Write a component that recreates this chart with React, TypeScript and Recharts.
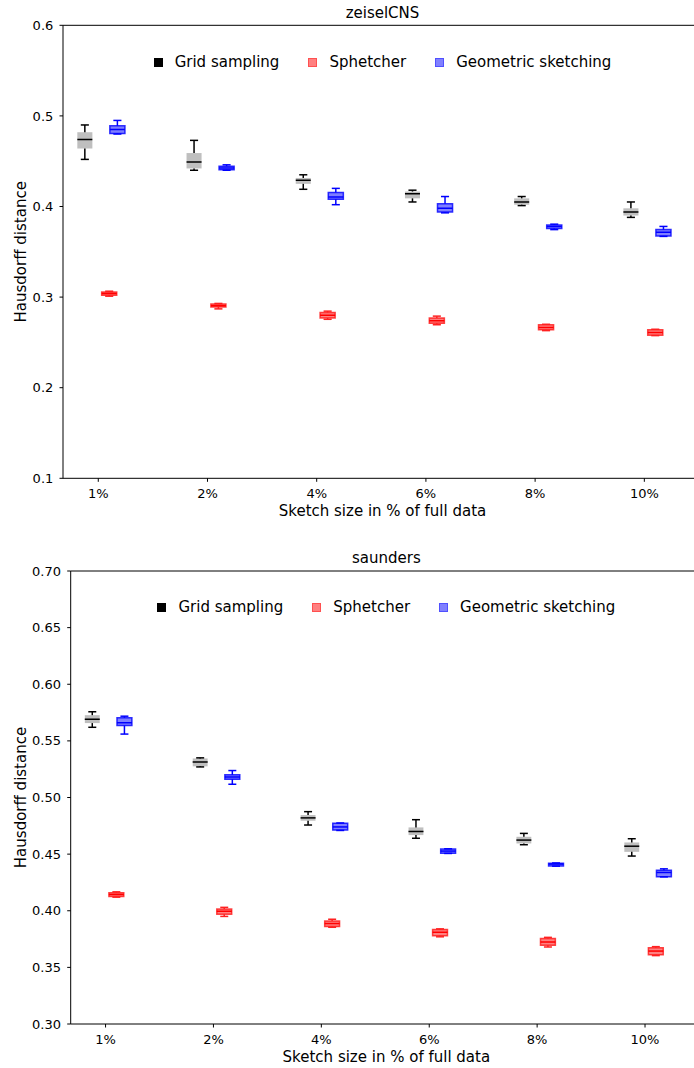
import React from 'react';
import { ComposedChart, Scatter, XAxis, YAxis, ReferenceArea, ReferenceLine, Legend, Label } from 'recharts';

const categories = ['1%', '2%', '4%', '6%', '8%', '10%'];
const methodNames = ['Grid sampling', 'Sphetcher', 'Geometric sketching'];

// each row: [lower whisker, Q1, median, Q3, upper whisker]
const zeiselGrid = [
  [0.452, 0.464, 0.474, 0.482, 0.490],
  [0.440, 0.442, 0.449, 0.459, 0.473],
  [0.419, 0.425, 0.429, 0.4315, 0.435],
  [0.405, 0.409, 0.414, 0.4165, 0.418],
  [0.401, 0.402, 0.405, 0.409, 0.411],
  [0.388, 0.390, 0.394, 0.398, 0.405],
];
const zeiselSphetcher = [
  [0.301, 0.302, 0.304, 0.3055, 0.3065],
  [0.287, 0.289, 0.2905, 0.2925, 0.293],
  [0.2755, 0.277, 0.280, 0.283, 0.2845],
  [0.2695, 0.271, 0.274, 0.277, 0.279],
  [0.263, 0.264, 0.2665, 0.2695, 0.270],
  [0.2575, 0.258, 0.261, 0.264, 0.2645],
];
const zeiselGeometric = [
  [0.480, 0.4805, 0.485, 0.489, 0.495],
  [0.440, 0.4405, 0.4425, 0.4445, 0.446],
  [0.402, 0.408, 0.4105, 0.4155, 0.420],
  [0.393, 0.394, 0.398, 0.403, 0.411],
  [0.3745, 0.3757, 0.378, 0.3795, 0.3805],
  [0.367, 0.3675, 0.3715, 0.3745, 0.378],
];
const saundersGrid = [
  [0.562, 0.5657, 0.569, 0.5727, 0.5757],
  [0.527, 0.5275, 0.5314, 0.5345, 0.535],
  [0.4757, 0.4795, 0.482, 0.4845, 0.4875],
  [0.464, 0.4668, 0.470, 0.4736, 0.4804],
  [0.4583, 0.4594, 0.4624, 0.4653, 0.4683],
  [0.4483, 0.452, 0.457, 0.4603, 0.4636],
];
const saundersSphetcher = [
  [0.412, 0.4125, 0.4143, 0.416, 0.4167],
  [0.395, 0.397, 0.3996, 0.4015, 0.403],
  [0.3854, 0.386, 0.3887, 0.391, 0.3925],
  [0.377, 0.378, 0.381, 0.3835, 0.384],
  [0.368, 0.3695, 0.3724, 0.3755, 0.3765],
  [0.3604, 0.3612, 0.3644, 0.3674, 0.3683],
];
const saundersGeometric = [
  [0.556, 0.5636, 0.566, 0.5704, 0.5718],
  [0.5117, 0.5161, 0.518, 0.520, 0.5238],
  [0.4709, 0.4712, 0.474, 0.4772, 0.4775],
  [0.4506, 0.4508, 0.4527, 0.4545, 0.4547],
  [0.4394, 0.4396, 0.4412, 0.442, 0.4422],
  [0.4299, 0.430, 0.4338, 0.4358, 0.437],
];

const zeiselTicks = [0.1, 0.2, 0.3, 0.4, 0.5, 0.6];
const saundersTicks = [0.3, 0.35, 0.4, 0.45, 0.5, 0.55, 0.6, 0.65, 0.7];

const STYLES = [
  { offset: -0.123, boxFill: '#000000', boxOpacity: 0.25, boxStroke: 'none', line: '#000000', median: '#000000', legFill: '#000000', legStroke: '#000000' },
  { offset: 0.1, boxFill: '#ff0000', boxOpacity: 0.5, boxStroke: 'rgba(255,0,0,0.7)', line: '#ff2020', median: '#ff0000', legFill: '#ff8080', legStroke: '#ff5050' },
  { offset: 0.175, boxFill: '#0000ff', boxOpacity: 0.5, boxStroke: 'rgba(0,0,255,0.8)', line: '#0000ff', median: '#0000ff', legFill: '#8080ff', legStroke: '#5050ff' },
];

const X_DOMAIN: [number, number] = [-0.323, 5.528];
const BOX_HALF = 0.069;
const CAP_HALF = 0.037;
const LW = 1.5;

function boxElements(stats: number[][], m: number, prefix: string) {
  const st = STYLES[m];
  const out: any[] = [];
  stats.forEach((s, i) => {
    const x = i + st.offset;
    const [lo, q1, , q3, hi] = s;
    const k = `${prefix}-${m}-${i}`;
    out.push(
      <ReferenceArea key={k + 'box'} x1={x - BOX_HALF} x2={x + BOX_HALF} y1={q1} y2={q3}
        fill={st.boxFill} fillOpacity={st.boxOpacity} stroke={st.boxStroke} strokeWidth={LW} ifOverflow="visible" />
    );
    out.push(<ReferenceLine key={k + 'wl'} segment={[{ x, y: lo }, { x, y: q1 }]} stroke={st.line} strokeWidth={LW} ifOverflow="visible" />);
    out.push(<ReferenceLine key={k + 'wh'} segment={[{ x, y: q3 }, { x, y: hi }]} stroke={st.line} strokeWidth={LW} ifOverflow="visible" />);
    out.push(<ReferenceLine key={k + 'cl'} segment={[{ x: x - CAP_HALF, y: lo }, { x: x + CAP_HALF, y: lo }]} stroke={st.line} strokeWidth={LW} ifOverflow="visible" />);
    out.push(<ReferenceLine key={k + 'ch'} segment={[{ x: x - CAP_HALF, y: hi }, { x: x + CAP_HALF, y: hi }]} stroke={st.line} strokeWidth={LW} ifOverflow="visible" />);
  });
  return out;
}

function medianData(stats: number[][], m: number) {
  return stats.map((s, i) => ({ x: i + STYLES[m].offset, y: s[2] }));
}

const makeMedianShape = (color: string) => (props: any) => {
  const { cx, cy } = props;
  if (cx == null || cy == null) return <g />;
  return <line x1={cx - 7.5} x2={cx + 7.5} y1={cy} y2={cy} stroke={color} strokeWidth={LW} />;
};

const renderLegend = () => (
  <div style={{ display: 'flex', justifyContent: 'center', alignItems: 'center', fontSize: 15, lineHeight: '18px', color: '#000' }}>
    {methodNames.map((n, i) => (
      <div key={n} style={{ display: 'flex', alignItems: 'center', marginRight: i < methodNames.length - 1 ? 29 : 0 }}>
        <span style={{ display: 'inline-block', width: 9, height: 9, boxSizing: 'border-box', background: STYLES[i].legFill, border: `1px solid ${STYLES[i].legStroke}`, marginRight: 12 }} />
        <span>{n}</span>
      </div>
    ))}
  </div>
);

interface PanelProps {
  title: string;
  series: number[][][];
  yDomain: [number, number];
  yTicks: number[];
  decimals: number;
  yAxisWidth: number;
  topH: number;
  bottomH: number;
  legendTop: number;
  prefix: string;
}

function Panel(p: PanelProps) {
  const tickStyle = { fill: '#000', fontSize: 13 };
  return (
    <ComposedChart width={702} height={534} margin={{ top: 0, right: 0, bottom: 0, left: 0 }}>
      <XAxis xAxisId="top" orientation="top" type="number" dataKey="x" domain={X_DOMAIN} allowDataOverflow
        tick={false} tickLine={false} axisLine={{ stroke: '#000', strokeWidth: 1 }} height={p.topH}>
        <Label value={p.title} position="insideBottom" offset={7.7} fill="#000" fontSize={15} />
      </XAxis>
      <XAxis type="number" dataKey="x" domain={X_DOMAIN} allowDataOverflow ticks={[0, 1, 2, 3, 4, 5]} interval={0}
        tickFormatter={(v: number) => categories[Math.round(v)]} tick={tickStyle}
        tickLine={{ stroke: '#000' }} tickSize={3.5} tickMargin={7} axisLine={{ stroke: '#000', strokeWidth: 1 }} height={p.bottomH}>
        <Label value="Sketch size in % of full data" position="insideTop" offset={27} fill="#000" fontSize={15} />
      </XAxis>
      <YAxis type="number" dataKey="y" domain={p.yDomain} allowDataOverflow ticks={p.yTicks} interval={0}
        tickFormatter={(v: number) => v.toFixed(p.decimals)} tick={tickStyle}
        tickLine={{ stroke: '#000' }} tickSize={3.5} tickMargin={6.2} axisLine={{ stroke: '#000', strokeWidth: 1 }} width={p.yAxisWidth}>
        <Label value="Hausdorff distance" position="insideLeft" angle={-90} offset={21} fill="#000" fontSize={15} style={{ textAnchor: 'middle' }} />
      </YAxis>
      {p.series.map((stats, m) => boxElements(stats, m, p.prefix))}
      {p.series.map((stats, m) => (
        <Scatter key={p.prefix + 's' + m} name={methodNames[m]} data={medianData(stats, m)} fill={STYLES[m].median}
          shape={makeMedianShape(STYLES[m].median)} isAnimationActive={false} />
      ))}
      <Legend verticalAlign="middle" layout="horizontal" align="center" content={renderLegend}
        wrapperStyle={{ position: 'absolute', top: p.legendTop, left: p.yAxisWidth, width: 702 - p.yAxisWidth, height: 18 }} />
    </ComposedChart>
  );
}

export default function App() {
  return (
    <div style={{ position: 'absolute', left: 0, top: 0, width: 694, height: 1068, overflow: 'hidden', background: '#fff', fontFamily: '"DejaVu Sans", sans-serif' }}>
      <div style={{ position: 'absolute', left: 0, top: 0 }}>
        <Panel title="zeiselCNS" series={[zeiselGrid, zeiselSphetcher, zeiselGeometric]} yDomain={[0.1, 0.6]} yTicks={zeiselTicks}
          decimals={1} yAxisWidth={63} topH={25.3} bottomH={55.7} legendTop={53} prefix="z" />
      </div>
      <div style={{ position: 'absolute', left: 0, top: 534 }}>
        <Panel title="saunders" series={[saundersGrid, saundersSphetcher, saundersGeometric]} yDomain={[0.3, 0.7]} yTicks={saundersTicks}
          decimals={2} yAxisWidth={70.7} topH={37} bottomH={44} legendTop={64} prefix="s" />
      </div>
    </div>
  );
}
